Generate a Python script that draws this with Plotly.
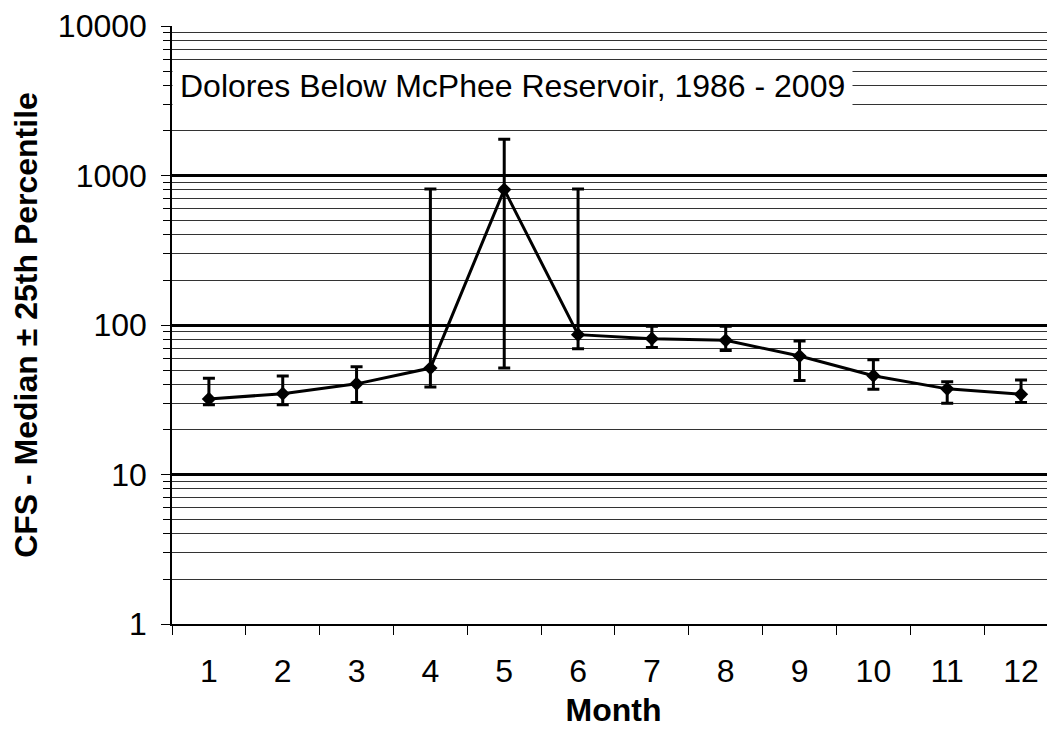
import plotly.graph_objects as go

# monthly flow stats (cfs)
months = ["1", "2", "3", "4", "5", "6", "7", "8", "9", "10", "11", "12"]
median = [32, 34.7, 40.4, 51.5, 805, 86.2, 81, 79, 62, 45.8, 37.4, 34.4]
p75 = [44, 45.6, 52.6, 813, 1749, 813, 98, 98, 78.3, 58.5, 41.8, 42.9]
p25 = [29.3, 29.3, 30.3, 38.5, 51.5, 69.3, 70.7, 67.5, 42.5, 37.2, 30, 30.3]

err_plus = [hi - m for hi, m in zip(p75, median)]
err_minus = [m - lo for lo, m in zip(p25, median)]

font = "Liberation Sans, Arial, sans-serif"
fsize = 32

fig = go.Figure()
fig.add_trace(go.Scatter(
    x=months, y=median, mode="lines+markers",
    line=dict(color="black", width=3),
    marker=dict(symbol="diamond", size=11, color="black"),
    error_y=dict(type="data", symmetric=False, array=err_plus, arrayminus=err_minus,
                 color="black", thickness=3, width=6),
    showlegend=False,
))

fig.add_annotation(
    xref="paper", yref="y", x=0, y=3.6, xanchor="left", yanchor="middle",
    text="Dolores Below McPhee Reservoir, 1986 - 2009", showarrow=False,
    font=dict(family=font, size=fsize, color="black"),
    bgcolor="white", borderpad=7,
)

fig.update_xaxes(
    type="category", range=[-0.5, 11.46],
    tickson="boundaries", ticks="outside", ticklen=9, tickcolor="black",
    ticklabelstandoff=18,
    showline=True, linecolor="black", linewidth=1.5, showgrid=False,
    tickfont=dict(family=font, size=fsize, color="black"),
    title=dict(text="<b>Month</b>", font=dict(family=font, size=fsize, color="black"), standoff=10),
)
fig.update_yaxes(
    type="log", range=[0, 4], dtick=1,
    tickvals=[1, 10, 100, 1000, 10000], ticktext=["1", "10", "100", "1000", "10000"],
    ticks="outside", ticklen=9, tickcolor="black",
    ticklabelstandoff=8, ticklabeloverflow="allow",
    showline=True, linecolor="black", linewidth=1.5,
    showgrid=True, gridcolor="black", gridwidth=3,
    minor=dict(dtick="D1", showgrid=True, gridcolor="#333333", gridwidth=1,
               ticks="outside", ticklen=7, tickcolor="black"),
    tickfont=dict(family=font, size=fsize, color="black"),
    title=dict(text="<b>CFS - Median ± 25th Percentile</b>",
               font=dict(family=font, size=fsize, color="black"), standoff=26),
)

fig.update_layout(
    width=1047, height=721,
    margin=dict(l=164, r=0, t=15, b=105),
    paper_bgcolor="white", plot_bgcolor="white",
)

fig.write_html("out.html")
